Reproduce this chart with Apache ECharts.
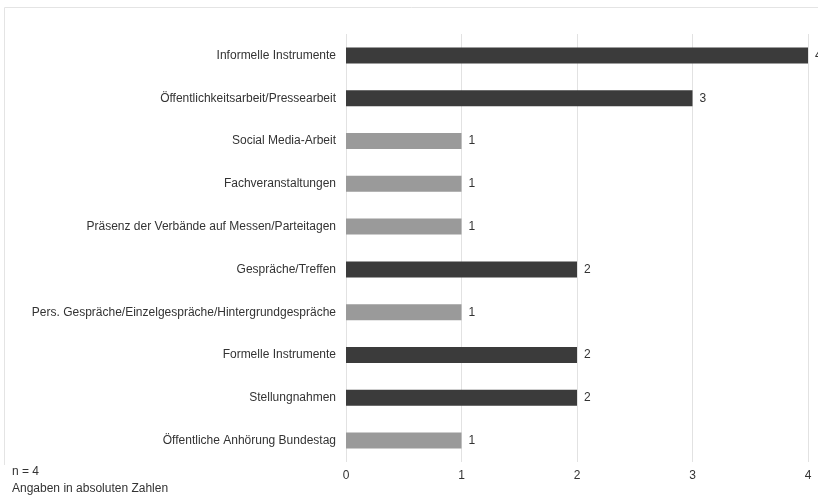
<!DOCTYPE html>
<html>
<head>
<meta charset="utf-8">
<script src="https://cdn.jsdelivr.net/npm/echarts@6/dist/echarts.min.js"></script>
<style>
  html, body { margin: 0; padding: 0; background: #fff; }
  #chart { width: 818px; height: 498px; }
</style>
</head>
<body>
<div id="chart"></div>
<script>
// Kategorien von oben nach unten
const categories = [
  'Informelle Instrumente',
  'Öffentlichkeitsarbeit/Pressearbeit',
  'Social Media-Arbeit',
  'Fachveranstaltungen',
  'Präsenz der Verbände auf Messen/Parteitagen',
  'Gespräche/Treffen',
  'Pers. Gespräche/Einzelgespräche/Hintergrundgespräche',
  'Formelle Instrumente',
  'Stellungnahmen',
  'Öffentliche Anhörung Bundestag'
];
const values = [4, 3, 1, 1, 1, 2, 1, 2, 2, 1];
// Oberkategorien dunkel, Unterkategorien hell
const isMain = [true, true, false, false, false, true, false, true, true, false];
const xTicks = [0, 1, 2, 3, 4];

const DARK = '#3b3b3b';
const LIGHT = '#9a9a9a';

const chart = echarts.init(document.getElementById('chart'));

// Die y-Achse läuft von unten nach oben, daher umgekehrt
const cats = categories.slice().reverse();
const mainRev = isMain.slice().reverse();
const data = values.slice().reverse().map((v, i) => ({
  value: v,
  itemStyle: { color: mainRev[i] ? DARK : LIGHT }
}));

chart.setOption({
  animation: false,
  grid: { left: 346, right: 10, top: 34, bottom: 36, containLabel: false },
  xAxis: {
    type: 'value',
    min: xTicks[0],
    max: xTicks[xTicks.length - 1],
    interval: 1,
    axisLine: { show: false },
    axisTick: { show: false },
    splitLine: { show: true, lineStyle: { color: '#e2e2e2', width: 1 } },
    axisLabel: {
      color: '#333',
      fontFamily: 'Liberation Sans, Arial, sans-serif',
      fontSize: 12,
      margin: 8,
      formatter: v => String(v)
    }
  },
  yAxis: {
    type: 'category',
    data: cats,
    axisLine: { show: false },
    axisTick: { show: false },
    splitLine: { show: false },
    axisLabel: {
      color: '#333',
      fontFamily: 'Liberation Sans, Arial, sans-serif',
      fontSize: 12,
      margin: 10
    }
  },
  series: [{
    type: 'bar',
    data: data,
    barWidth: 16,
    label: {
      show: true,
      position: 'right',
      distance: 7,
      color: '#333',
      fontFamily: 'Liberation Sans, Arial, sans-serif',
      fontSize: 12
    }
  }],
  graphic: [
    {
      type: 'polyline',
      silent: true,
      shape: { points: [[4.5, 465], [4.5, 7.5], [818, 7.5]] },
      style: { stroke: '#e4e4e4', lineWidth: 1, fill: null }
    },
    {
      type: 'text',
      left: 12, top: 463,
      style: {
        text: 'n = 4\nAngaben in absoluten Zahlen',
        fill: '#333',
        font: '12px "Liberation Sans", Arial, sans-serif',
        lineHeight: 17
      }
    }
  ]
});
</script>
</body>
</html>
